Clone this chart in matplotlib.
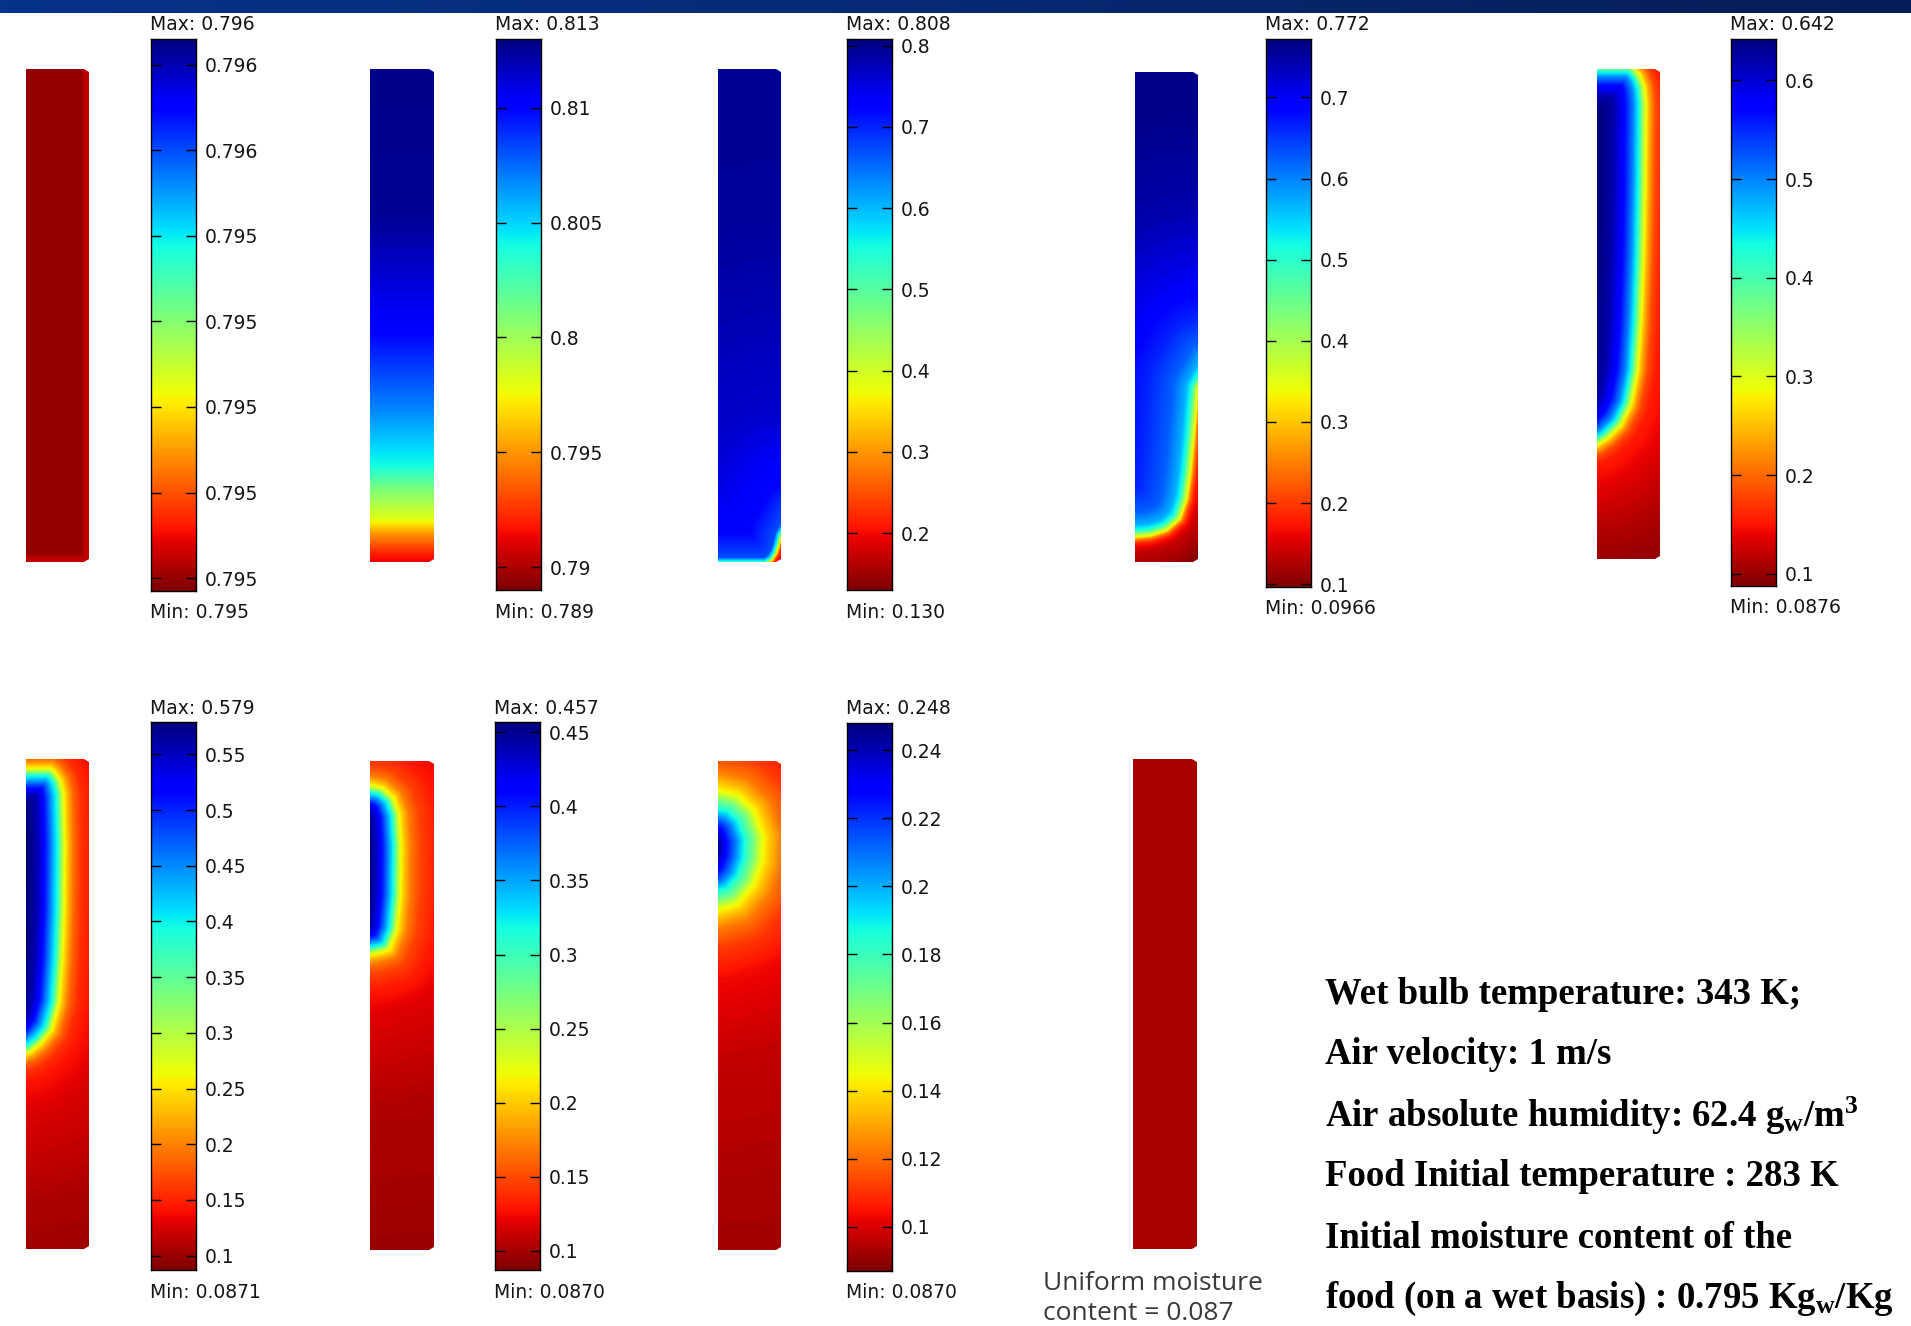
import numpy as np
import matplotlib
matplotlib.use("Agg")
import matplotlib.pyplot as plt
from matplotlib.path import Path
from matplotlib.patches import Polygon
from matplotlib.colors import Normalize, ListedColormap, LinearSegmentedColormap

plt.rcParams['mathtext.fontset'] = 'custom'
plt.rcParams['mathtext.rm'] = 'Liberation Serif:bold'
plt.rcParams['mathtext.it'] = 'Liberation Serif:bold'
plt.rcParams['mathtext.bf'] = 'Liberation Serif:bold'

# ---------------- data ----------------
panel_max = [0.79563, 0.813, 0.808, 0.772, 0.642, 0.579, 0.457, 0.248]
panel_min = [0.794985, 0.789, 0.130, 0.0966, 0.0876, 0.0871, 0.0870, 0.0870]
max_labels = ["0.796", "0.813", "0.808", "0.772", "0.642", "0.579", "0.457", "0.248"]
min_labels = ["0.795", "0.789", "0.130", "0.0966", "0.0876", "0.0871", "0.0870", "0.0870"]

ticks_p1 = [0.7950, 0.7951, 0.7952, 0.7953, 0.7954, 0.7955, 0.7956]
labels_p1 = ["0.795", "0.795", "0.795", "0.795", "0.795", "0.796", "0.796"]
ticks_p2 = [0.79, 0.795, 0.80, 0.805, 0.81]
labels_p2 = ["0.79", "0.795", "0.8", "0.805", "0.81"]
ticks_p3 = [0.2, 0.3, 0.4, 0.5, 0.6, 0.7, 0.8]
labels_p3 = ["0.2", "0.3", "0.4", "0.5", "0.6", "0.7", "0.8"]
ticks_p4 = [0.1, 0.2, 0.3, 0.4, 0.5, 0.6, 0.7]
labels_p4 = ["0.1", "0.2", "0.3", "0.4", "0.5", "0.6", "0.7"]
ticks_p5 = [0.1, 0.2, 0.3, 0.4, 0.5, 0.6]
labels_p5 = ["0.1", "0.2", "0.3", "0.4", "0.5", "0.6"]
ticks_p6 = [0.1, 0.15, 0.2, 0.25, 0.3, 0.35, 0.4, 0.45, 0.5, 0.55]
labels_p6 = ["0.1", "0.15", "0.2", "0.25", "0.3", "0.35", "0.4", "0.45", "0.5", "0.55"]
ticks_p7 = [0.1, 0.15, 0.2, 0.25, 0.3, 0.35, 0.4, 0.45]
labels_p7 = ["0.1", "0.15", "0.2", "0.25", "0.3", "0.35", "0.4", "0.45"]
ticks_p8 = [0.1, 0.12, 0.14, 0.16, 0.18, 0.2, 0.22, 0.24]
labels_p8 = ["0.1", "0.12", "0.14", "0.16", "0.18", "0.2", "0.22", "0.24"]

# drying fronts (x: fraction from symmetry axis, y: fraction from top)
front_p1 = [(1.0, -0.2), (1.0, 1.0), (-0.2, 1.0)]
close_p1 = [(-0.2, -0.2)]
front_p2 = [(-0.2, 1.003), (1.2, 1.003)]
close_p2 = [(1.2, -0.2), (-0.2, -0.2)]
front_p3 = [(-0.2, 1.003), (0.75, 1.003), (0.85, 0.996), (0.92, 0.982), (0.96, 0.966),
            (1.0, 0.946), (1.2, 0.9)]
close_p3 = [(1.2, -0.2), (-0.2, -0.2)]
front_p4 = [(1.2, 0.60), (1.0, 0.646), (0.98, 0.673), (0.93, 0.748), (0.88, 0.816),
            (0.82, 0.871), (0.71, 0.912), (0.505, 0.935), (0.245, 0.946), (0.0, 0.949),
            (-0.2, 0.95)]
close_p4 = [(-0.2, -0.2), (1.2, -0.2)]
front_p5 = [(-0.2, -0.006), (0.5, -0.006), (0.59, 0.0), (0.68, 0.015), (0.747, 0.0375),
            (0.774, 0.072), (0.76, 0.243), (0.737, 0.38), (0.695, 0.52), (0.642, 0.618),
            (0.537, 0.686), (0.379, 0.727), (0.168, 0.754), (0.0, 0.768), (-0.2, 0.77)]
front_p6 = [(-0.2, 0.0203), (0.385, 0.0203), (0.45, 0.027), (0.54, 0.044), (0.59, 0.071),
            (0.61, 0.173), (0.60, 0.308), (0.57, 0.41), (0.52, 0.498), (0.40, 0.553),
            (0.23, 0.58), (0.064, 0.597), (0.0, 0.6), (-0.2, 0.6)]
front_p7 = [(-0.2, 0.05), (0.0, 0.05), (0.19, 0.056), (0.35, 0.075), (0.44, 0.108),
            (0.47, 0.175), (0.46, 0.275), (0.41, 0.345), (0.29, 0.385), (0.12, 0.392),
            (0.0, 0.395), (-0.2, 0.395)]
front_p8 = [(-0.2, 0.062), (0.0, 0.062), (0.3, 0.072), (0.55, 0.102), (0.7, 0.155),
            (0.68, 0.205), (0.55, 0.252), (0.3, 0.29), (0.0, 0.302), (-0.2, 0.302)]

# moisture vs signed distance (px) from the front (positive = wet side)
dist_p1 = [0, 5, 7, 600]
moist_p1 = [0.795024, 0.795020, 0.794998, 0.794998]
dist_p2 = [-10, 0, 10, 30, 44, 74, 98, 157, 231, 344, 600]
moist_p2 = [0.791, 0.791, 0.792, 0.795, 0.798, 0.801, 0.804, 0.807, 0.810, 0.8125, 0.813]
dist_p3 = [-30, -8, -3, 0, 2, 6, 30, 100, 300, 600]
moist_p3 = [0.150, 0.164, 0.232, 0.401, 0.537, 0.672, 0.720, 0.761, 0.791, 0.798]
dist_p4 = [-40, -15, -7, -3, 0, 3, 6, 12, 25, 50, 90, 160, 260]
moist_p4 = [0.1034, 0.1371, 0.1776, 0.2452, 0.3465, 0.4140, 0.5018, 0.5694, 0.6234,
            0.6639, 0.7045, 0.7450, 0.7653]
dist_p5 = [-120, -80, -40, -18, -10, -4, 0, 3, 6, 12, 20, 32, 45]
moist_p5 = [0.0987, 0.1153, 0.1375, 0.1541, 0.1818, 0.2373, 0.2927, 0.3482, 0.4202,
            0.4979, 0.5644, 0.6198, 0.642]
dist_p6 = [-250, -150, -60, -30, -18, -10, -4, 0, 3, 6, 12, 18, 26, 36]
moist_p6 = [0.0969, 0.1068, 0.1265, 0.1412, 0.1560, 0.1855, 0.2298, 0.2691, 0.3183,
            0.3822, 0.4413, 0.5003, 0.5544, 0.579]
dist_p7 = [-300, -150, -60, -35, -20, -10, -4, 0, 3, 6, 11, 17, 24, 30]
moist_p7 = [0.0963, 0.1037, 0.1185, 0.1314, 0.1462, 0.1684, 0.198, 0.2239, 0.2609, 0.309,
            0.3534, 0.4015, 0.4385, 0.457]
dist_p8 = [-350, -150, -70, -40, -20, -8, 0, 8, 16, 26, 36, 45]
moist_p8 = [0.0918, 0.0967, 0.1031, 0.1112, 0.1224, 0.1353, 0.1466, 0.1675, 0.1836, 0.2078,
            0.2287, 0.248]

uniform_content = 0.087

info_lines = [
    "Wet bulb temperature: 343 K;",
    "Air velocity: 1 m/s",
    r"Air absolute humidity: 62.4 g$_{\mathrm{w}}$/m$^{\mathrm{3}}$",
    "Food Initial temperature : 283 K",
    "Initial moisture content of the",
    r"food (on a wet basis) : 0.795 Kg$_{\mathrm{w}}$/Kg",
]

# ---------------- layout (pixels) ----------------
FW, FH = 1911, 1326
field_boxes = [(26, 69, 89, 562), (370, 69, 434, 562), (718, 69, 781, 562),
               (1135, 72, 1198, 562), (1597, 69, 1660, 559),
               (26, 759, 89, 1249), (370, 761, 434, 1250), (718, 761, 781, 1250)]
uniform_box = (1133, 759, 1197, 1249)
cbar_boxes = [(151, 39, 196, 591), (496, 39, 541, 590), (847, 39, 892, 590),
              (1266, 39, 1311, 587), (1731, 39, 1776, 586),
              (151, 722, 196, 1270), (495, 722, 540, 1270), (847, 723, 892, 1271)]

fronts = [front_p1, front_p2, front_p3, front_p4, front_p5, front_p6, front_p7, front_p8]
closures = [close_p1, close_p2, close_p3, close_p4, [], [], [], []]
dists = [dist_p1, dist_p2, dist_p3, dist_p4, dist_p5, dist_p6, dist_p7, dist_p8]
moists = [moist_p1, moist_p2, moist_p3, moist_p4, moist_p5, moist_p6, moist_p7, moist_p8]
ticks = [ticks_p1, ticks_p2, ticks_p3, ticks_p4, ticks_p5, ticks_p6, ticks_p7, ticks_p8]
tlabels = [labels_p1, labels_p2, labels_p3, labels_p4, labels_p5, labels_p6, labels_p7, labels_p8]

fig = plt.figure(figsize=(FW / 100, FH / 100), dpi=100)
fig.patch.set_facecolor('white')


def add_px_axes(box):
    x0, y0, x1, y1 = box
    return fig.add_axes([x0 / FW, 1 - y1 / FH, (x1 - x0) / FW, (y1 - y0) / FH])


def fx(x):
    return x / FW


def fy(y):
    return 1 - y / FH


W, H, SS = 63.0, 492.0, 2


def build_field(front, closure, dist, moist):
    nx, ny = int(W * SS), int(H * SS)
    xs = (np.arange(nx) + 0.5) / SS
    ys = (np.arange(ny) + 0.5) / SS
    X, Y = np.meshgrid(xs, ys)
    pts = np.array(front, dtype=float) * [W, H]
    d = np.full(X.shape, np.inf)
    for (ax_, ay_), (bx, by) in zip(pts[:-1], pts[1:]):
        vx, vy = bx - ax_, by - ay_
        L2 = vx * vx + vy * vy
        t = np.clip(((X - ax_) * vx + (Y - ay_) * vy) / L2, 0, 1)
        d = np.minimum(d, np.hypot(X - (ax_ + t * vx), Y - (ay_ + t * vy)))
    poly = np.vstack([pts, np.array(closure, dtype=float).reshape(-1, 2) * [W, H]])
    inside = Path(poly).contains_points(np.c_[X.ravel(), Y.ravel()]).reshape(X.shape)
    sd = np.where(inside, d, -d)
    return np.interp(sd, dist, moist)


def slab_clip(ax):
    c = Polygon([(0, 0), (W - 5, 0), (W, 3), (W, H - 3), (W - 5, H), (0, H)],
                closed=True, transform=ax.transData, facecolor='none', edgecolor='none')
    ax.add_patch(c)
    return c


cmap = plt.get_cmap('jet_r')
label_kw = dict(fontsize=13.5, family='DejaVu Sans', color='#151515')

for i in range(8):
    vmin, vmax = panel_min[i], panel_max[i]
    norm = Normalize(vmin, vmax)
    # field
    ax = add_px_axes(field_boxes[i])
    F = build_field(fronts[i], closures[i], dists[i], moists[i])
    im = ax.imshow(F, cmap=cmap, norm=norm, extent=[0, W, H, 0], aspect='auto',
                   interpolation='bilinear')
    ax.set_xlim(0, W)
    ax.set_ylim(H, 0)
    im.set_clip_path(slab_clip(ax))
    ax.axis('off')
    # colorbar
    cax = add_px_axes(cbar_boxes[i])
    grad = np.linspace(vmin, vmax, 600).reshape(-1, 1)
    cax.imshow(grad, cmap=cmap, norm=norm, extent=[0, 1, vmin, vmax], origin='lower',
               aspect='auto', interpolation='bilinear')
    cax.set_xlim(0, 1)
    cax.set_ylim(vmin, vmax)
    cax.set_xticks([])
    cax.set_yticks(ticks[i])
    cax.set_yticklabels(tlabels[i])
    cax.yaxis.set_ticks_position('both')
    cax.tick_params(axis='y', direction='in', length=7, width=1, color='black',
                    labelleft=False, labelright=True, pad=6, labelsize=13.5,
                    labelcolor='#151515')
    for s in cax.spines.values():
        s.set_linewidth(1.0)
        s.set_color('black')
    x0, y0, x1, y1 = cbar_boxes[i]
    fig.text(fx(x0 - 1), fy(y0 - 14), "Max: " + max_labels[i], ha='left', va='center', **label_kw)
    fig.text(fx(x0 - 1), fy(y1 + 22), "Min: " + min_labels[i], ha='left', va='center', **label_kw)

# uniform final state
ax = add_px_axes(uniform_box)
im = ax.imshow(np.full((4, 2), uniform_content), cmap=ListedColormap(['#a80000']),
               extent=[0, W, H, 0], aspect='auto')
ax.set_xlim(0, W)
ax.set_ylim(H, 0)
im.set_clip_path(slab_clip(ax))
ax.axis('off')
fig.text(fx(1043), fy(1284), "Uniform moisture", ha='left', va='center',
         fontsize=19, family='Open Sans', color='#3a3a3a')
fig.text(fx(1043), fy(1313), "content = %.3f" % uniform_content, ha='left', va='center',
         fontsize=19, family='Open Sans', color='#3a3a3a')

# conditions text
line_y = [995, 1055, 1116, 1177, 1238, 1299]
for s, y in zip(info_lines, line_y):
    fig.text(fx(1325), fy(y), s, ha='left', va='center', fontsize=26.5,
             family='Liberation Serif', fontweight='bold', color='black')

# top banner strip
bax = fig.add_axes([0, 1 - 13 / FH, 1, 13 / FH])
banner = LinearSegmentedColormap.from_list('banner', ['#08338a', '#062a74', '#061d58'])
bax.imshow(np.linspace(0, 1, 256).reshape(1, -1), cmap=banner, aspect='auto',
           extent=[0, 1, 0, 1])
bax.axis('off')

fig.savefig('out.png', dpi=100, facecolor='white')
